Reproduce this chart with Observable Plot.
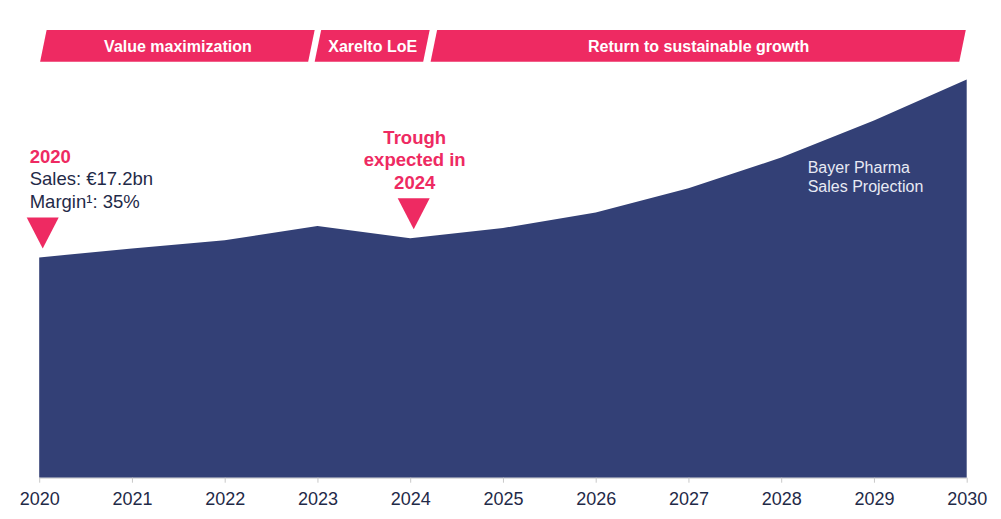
<!DOCTYPE html>
<html>
<head>
<meta charset="utf-8">
<script src="https://cdn.jsdelivr.net/npm/d3@7"></script>
<script src="https://cdn.jsdelivr.net/npm/@observablehq/plot@0.6"></script>
<style>
  html, body { margin: 0; padding: 0; background: #fff; }
  #chart { width: 1001px; height: 519px; }
</style>
</head>
<body>
<div id="chart"></div>
<script>
// ---- data ----
const years = [2020, 2021, 2022, 2023, 2024, 2025, 2026, 2027, 2028, 2029, 2030];
const sales = [17.2, 17.9, 18.55, 19.65, 18.7, 19.5, 20.7, 22.6, 25.0, 27.9, 31.1]; // €bn (2020 actual, rest projected)
const phaseLabels = ["Value maximization", "Xarelto LoE", "Return to sustainable growth"];
const phaseStart = [2020.01, 2022.97, 2024.22];
const phaseEnd = [2022.90, 2024.14, 2029.92];
const markerYears = [2020, 2024];
const tickYears = years;

// ---- styling constants ----
const PINK = "#ee2a62";
const NAVY = "#334076";
const TEXT = "#1f2a48";
const FONT = "'Liberation Sans', Arial, Helvetica, sans-serif";
const yTop = 37.3;           // top of the y domain (€bn)
const bandTop = 34.96;       // phase banner band in y units
const bandBottom = 32.48;
const slant = 0.07;          // banner slant in years

const data = years.map((year, i) => ({year, sales: sales[i]}));
const markers = markerYears.map(y => data.find(d => d.year === y));

// phase banners as parallelograms via areaX
const bannerPts = [];
phaseLabels.forEach((label, i) => {
  bannerPts.push({phase: label, y: bandBottom, x1: phaseStart[i], x2: phaseEnd[i]});
  bannerPts.push({phase: label, y: bandTop, x1: phaseStart[i] + slant, x2: phaseEnd[i] + slant});
});
const bannerText = phaseLabels.map((label, i) => ({
  label,
  x: (phaseStart[i] + phaseEnd[i] + slant) / 2,
  y: (bandTop + bandBottom) / 2
}));

const downTriangle = {
  draw(context) {
    context.moveTo(-16, -15.5);
    context.lineTo(16, -15.5);
    context.lineTo(0, 15.5);
    context.closePath();
  }
};

const d2020 = data[0];
const d2024 = data.find(d => d.year === 2024);
const d2028 = data.find(d => d.year === 2028);

const chart = Plot.plot({
  width: 1001,
  height: 519,
  marginLeft: 39.2,
  marginRight: 34.3,
  marginTop: 0,
  marginBottom: 41.3,
  style: {fontFamily: FONT, background: "#fff", overflow: "visible"},
  x: {domain: [2020, 2030], axis: null},
  y: {domain: [0, yTop], axis: null},
  marks: [
    Plot.areaY(data, {x: "year", y: "sales", fill: NAVY, curve: "linear"}),
    Plot.ruleY([0], {stroke: "#d0d0d0", strokeWidth: 1}),
    Plot.axisX({
      ticks: tickYears,
      tickFormat: d => String(d),
      tickSize: 5,
      tickPadding: 9,
      stroke: "#c8c8c8",
      fill: TEXT,
      fontSize: 18,
      label: null
    }),
    // phase banners
    Plot.areaX(bannerPts, {y: "y", x1: "x1", x2: "x2", z: "phase", fill: PINK, curve: "linear"}),
    Plot.text(bannerText, {
      x: "x", y: "y", text: "label", fill: "#fff", fontWeight: "bold",
      fontSize: 16, lineAnchor: "middle", dy: 1
    }),
    // markers
    Plot.dot(markers, {x: "year", y: "sales", symbol: downTriangle, fill: PINK, stroke: null, dx: 3, dy: -25}),
    // 2020 annotation
    Plot.text([d2020], {
      x: "year", y: "sales", text: d => String(d.year), fill: PINK, fontWeight: "bold",
      fontSize: 18.5, textAnchor: "start", lineAnchor: "bottom", dx: -10, dy: -95
    }),
    Plot.text([d2020], {
      x: "year", y: "sales",
      text: d => `Sales: €${d.sales}bn\nMargin¹: 35%`,
      fill: TEXT, fontSize: 18.5, lineHeight: 1.215,
      textAnchor: "start", lineAnchor: "bottom", dx: -10, dy: -50
    }),
    // trough annotation
    Plot.text([d2024], {
      x: "year", y: "sales",
      text: d => `Trough\nexpected in\n${d.year}`,
      fill: PINK, fontWeight: "bold", fontSize: 18.5, lineHeight: 1.215,
      textAnchor: "middle", lineAnchor: "bottom", dx: 4, dy: -50
    }),
    // series label
    Plot.text([d2028], {
      x: "year", y: "sales",
      text: () => "Bayer Pharma\nSales Projection",
      fill: "#e8eaf4", fontSize: 16, lineHeight: 1.19,
      textAnchor: "start", lineAnchor: "bottom", dx: 26, dy: 34.3
    })
  ]
});

document.getElementById("chart").appendChild(chart);
</script>
</body>
</html>
